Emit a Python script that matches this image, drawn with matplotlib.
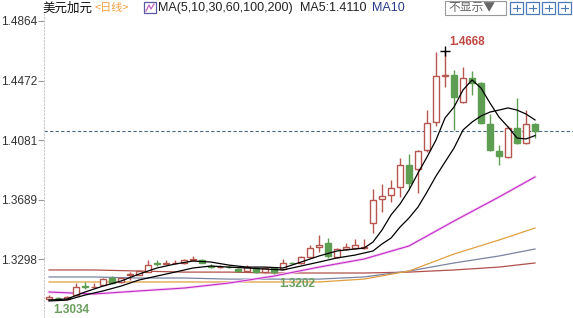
import matplotlib
matplotlib.use("Agg")
import matplotlib.pyplot as plt
from matplotlib.patches import Rectangle

# candle data (USD/CAD daily)
opens = [1.3036, 1.3043, 1.3037, 1.3061, 1.3122, 1.3112, 1.3127, 1.3173, 1.3147, 1.3195,
         1.3193, 1.3212, 1.3270, 1.3266, 1.3270, 1.3272, 1.3293, 1.3292, 1.3252, 1.3243,
         1.3248, 1.3232, 1.3219, 1.3239, 1.3212, 1.3237, 1.3232, 1.3274, 1.3270, 1.3311,
         1.3377, 1.3403, 1.3311, 1.3364, 1.3370, 1.3372, 1.3535, 1.3693, 1.3719, 1.3772,
         1.3916, 1.3890, 1.4015, 1.4199, 1.4505, 1.4509, 1.4331, 1.4489, 1.4456, 1.4186,
         1.4009, 1.3970, 1.4160, 1.4061, 1.4186]
highs = [1.3061, 1.3050, 1.3055, 1.3140, 1.3150, 1.3140, 1.3173, 1.3186, 1.3180, 1.3212,
         1.3225, 1.3291, 1.3291, 1.3291, 1.3293, 1.3298, 1.3318, 1.3298, 1.3265, 1.3258,
         1.3258, 1.3236, 1.3258, 1.3245, 1.3245, 1.3245, 1.3298, 1.3280, 1.3318, 1.3390,
         1.3456, 1.3436, 1.3370, 1.3403, 1.3430, 1.3430, 1.3759, 1.3791, 1.3818, 1.3963,
         1.3989, 1.4015, 1.4278, 1.4660, 1.4668, 1.4542, 1.4561, 1.4535, 1.4463, 1.4252,
         1.4048, 1.4170, 1.4357, 1.4278, 1.4193]
lows = [1.3034, 1.3036, 1.3036, 1.3058, 1.3101, 1.3108, 1.3125, 1.3135, 1.3143, 1.3160,
        1.3190, 1.3210, 1.3252, 1.3262, 1.3266, 1.3268, 1.3285, 1.3270, 1.3239, 1.3239,
        1.3236, 1.3215, 1.3215, 1.3206, 1.3208, 1.3202, 1.3228, 1.3262, 1.3265, 1.3305,
        1.3344, 1.3305, 1.3305, 1.3357, 1.3364, 1.3364, 1.3469, 1.3607, 1.3673, 1.3706,
        1.3765, 1.3732, 1.4000, 1.4173, 1.4430, 1.4147, 1.4325, 1.4377, 1.4186, 1.4009,
        1.3916, 1.3965, 1.4055, 1.4055, 1.4094]
closes = [1.3048, 1.3040, 1.3050, 1.3114, 1.3116, 1.3116, 1.3166, 1.3140, 1.3173, 1.3199,
          1.3219, 1.3258, 1.3266, 1.3270, 1.3275, 1.3291, 1.3298, 1.3275, 1.3247, 1.3247,
          1.3243, 1.3219, 1.3245, 1.3212, 1.3239, 1.3210, 1.3272, 1.3270, 1.3311, 1.3370,
          1.3390, 1.3318, 1.3364, 1.3377, 1.3390, 1.3377, 1.3686, 1.3713, 1.3765, 1.3916,
          1.3798, 1.4009, 1.4193, 1.4502, 1.4509, 1.4364, 1.4489, 1.4456, 1.4193, 1.4015,
          1.3976, 1.4160, 1.4061, 1.4186, 1.4140]

# moving averages
ma5_idx = list(range(0, 35, 2)) + list(range(35, 55))
ma5 = [1.3028, 1.3035, 1.3081, 1.3120, 1.3153, 1.3199, 1.3239, 1.3265, 1.3285, 1.3278,
       1.3258, 1.3245, 1.3245, 1.3239, 1.3278, 1.3318, 1.3351, 1.3364, 1.3370, 1.3410,
       1.3489, 1.3588, 1.3660, 1.3752, 1.3864, 1.3969, 1.4081, 1.4226, 1.4298, 1.4410,
       1.4476, 1.4423, 1.4324, 1.4232, 1.4167, 1.4094, 1.4088, 1.4110]
ma10_idx = list(range(0, 35, 2)) + list(range(36, 55))
ma10 = [1.3022, 1.3028, 1.3061, 1.3088, 1.3120, 1.3160, 1.3186, 1.3212, 1.3239, 1.3252,
        1.3245, 1.3239, 1.3232, 1.3226, 1.3252, 1.3278, 1.3305, 1.3324, 1.3351, 1.3397,
        1.3436, 1.3508, 1.3568, 1.3640, 1.3739, 1.3844, 1.3936, 1.4028, 1.4147, 1.4199,
        1.4239, 1.4265, 1.4278, 1.4292, 1.4278, 1.4252, 1.4213]
long_idx = [0, 5, 10, 15, 20, 25, 30, 35, 40, 45, 50, 54]
ma30 = [1.3081, 1.3068, 1.3088, 1.3107, 1.3140, 1.3186, 1.3245, 1.3298, 1.3384, 1.3548, 1.3706, 1.3838]
ma60 = [1.3147, 1.3147, 1.3147, 1.3147, 1.3147, 1.3147, 1.3147, 1.3166, 1.3219, 1.3331, 1.3423, 1.3502]
ma100 = [1.3180, 1.3180, 1.3173, 1.3173, 1.3166, 1.3166, 1.3166, 1.3180, 1.3219, 1.3272, 1.3318, 1.3364]
ma200 = [1.3226, 1.3226, 1.3219, 1.3212, 1.3212, 1.3206, 1.3206, 1.3206, 1.3212, 1.3226, 1.3245, 1.3272]

yticks = [1.4864, 1.4472, 1.4081, 1.3689, 1.3298]

UP = '#b5564f'
DOWN = '#5e9e52'
CJK = ['Noto Sans CJK SC', 'DejaVu Sans']

fig = plt.figure(figsize=(5.73, 3.18), dpi=100)
ax = fig.add_axes([44/573, 0, 529/573, 304/318])

# long moving averages
ax.plot(long_idx, ma200, color='#b0504a', lw=0.9, zorder=1)
ax.plot(long_idx, ma100, color='#7a84a0', lw=0.9, zorder=1)
ax.plot(long_idx, ma60, color='#e0a040', lw=0.9, zorder=1)
ax.plot(long_idx, ma30, color='#f8d0f4', lw=2.0, zorder=1)
ax.plot(long_idx, ma30, color='#c02cc8', lw=0.8, zorder=1)

# candles
w = 0.66
for i in range(len(opens)):
    o, h, l, c = opens[i], highs[i], lows[i], closes[i]
    up = c >= o
    col = UP if up else DOWN
    ax.vlines(i, l, h, color=col, lw=1.0, zorder=2)
    bot = min(o, c)
    hgt = max(abs(c - o), 0.00008)
    ax.add_patch(Rectangle((i - w/2, bot), w, hgt,
                           facecolor='white' if up else DOWN,
                           edgecolor=col, lw=1.0, zorder=3))

# short moving averages
ax.plot(ma10_idx, ma10, color='black', lw=0.9, zorder=4)
ax.plot(ma5_idx, ma5, color='black', lw=0.9, zorder=4)

# last price line
ax.axhline(closes[-1], color='#4a6a8a', lw=0.8, ls=(0, (3, 2)), zorder=1)

# extreme labels
ih = highs.index(max(highs))
ax.plot(ih, highs[ih], marker='+', color='black', ms=7, mew=1.0, zorder=5)
ax.annotate('%.4f' % highs[ih], xy=(ih, highs[ih]), xytext=(3, 6), textcoords='offset points',
            color='#c04a44', fontsize=8.5, fontweight='bold', family='Liberation Sans', va='center')
il = lows.index(min(lows))
ax.annotate('%.4f' % lows[il], xy=(il, lows[il]), xytext=(3, -7.5), textcoords='offset points',
            color='#6a9e5e', fontsize=8.5, fontweight='bold', family='Liberation Sans', va='center')
il2 = 25
ax.annotate('%.4f' % lows[il2], xy=(il2, lows[il2]), xytext=(4, -7.5), textcoords='offset points',
            color='#6a9e5e', fontsize=8.5, fontweight='bold', family='Liberation Sans', va='center')

ax.set_xlim(-0.556, 58.22)
ax.set_ylim(1.2910, 1.4910)
ax.set_yticks(yticks)
ax.set_yticklabels(['%.4f' % v for v in yticks], family='Liberation Sans', fontsize=8.5, color='#333333')
ax.tick_params(axis='y', length=4, width=0.8, color='#999999', pad=1)
ax.set_xticks([])
for s in ['top', 'right', 'bottom']:
    ax.spines[s].set_visible(False)
ax.spines['left'].set_color('#c8c8c8')
ax.spines['left'].set_linestyle((0, (1, 2)))
ax.spines['left'].set_linewidth(0.8)

# header bar
ty = 1 - 8/318
fig.text(42/573, ty, '美元加元', family=CJK, fontsize=9, color='#111111', va='center')
fig.text(95/573, ty, '<日线>', family=CJK, fontsize=8, color='#f0a040', va='center')
fig.add_artist(Rectangle((144/573, 1 - 13/318), 12/573, 11/318, transform=fig.transFigure,
                         facecolor='white', edgecolor='#5a5aa0', lw=0.9))
fig.add_artist(plt.Line2D([146/573, 149/573, 151/573, 154/573],
                          [1 - 11/318, 1 - 5/318, 1 - 9/318, 1 - 4/318],
                          transform=fig.transFigure, color='#c060c0', lw=0.9))
fig.text(158/573, ty, 'MA(5,10,30,60,100,200)', family='Liberation Sans', fontsize=9,
         color='#222222', va='center')
fig.text(300/573, ty, 'MA5:1.4110', family='Liberation Sans', fontsize=9, color='#222222', va='center')
fig.text(372/573, ty, 'MA10', family='Liberation Sans', fontsize=9, color='#2a3a8a', va='center')

fig.add_artist(Rectangle((445/573, 1 - 15/318), 61/573, 14/318, transform=fig.transFigure,
                         facecolor='white', edgecolor='#999999', lw=0.8))
fig.text(448/573, ty, '不显示▼', family=CJK, fontsize=8.5, color='#666666', va='center')
for k in range(4):
    x0 = (510 + 16 * k) / 573
    fig.add_artist(Rectangle((x0, 1 - 14/318), 13/573, 12/318, transform=fig.transFigure,
                             facecolor='white', edgecolor='#4a7ab8', lw=0.9))
    fig.add_artist(plt.Line2D([x0 + 3/573, x0 + 10/573], [1 - 8/318, 1 - 8/318],
                              transform=fig.transFigure, color='#4a7ab8', lw=0.8))
    fig.add_artist(plt.Line2D([x0 + 6.5/573, x0 + 6.5/573], [1 - 11/318, 1 - 5/318],
                              transform=fig.transFigure, color='#4a7ab8', lw=0.8))

fig.savefig('out.png', dpi=100)
